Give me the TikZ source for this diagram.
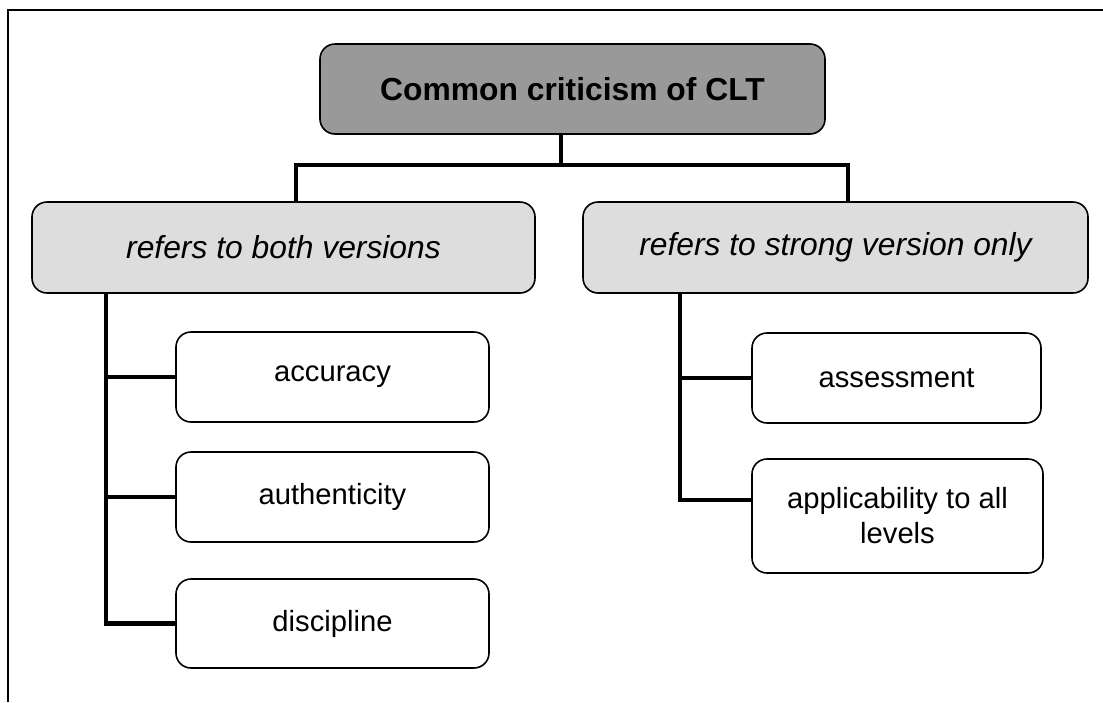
\documentclass[tikz,border=0pt]{standalone}
\usepackage{fontspec}
\setmainfont{Liberation Sans}
\begin{document}
\begin{tikzpicture}[x=1pt,y=-1pt,
  box/.style={draw=black,line width=1.6pt,rounded corners=15pt,rectangle,align=center,inner sep=0pt},
  topbox/.style={box,fill=topgray,font=\fontsize{31.8}{38}\selectfont\bfseries},
  midbox/.style={box,fill=midgray,font=\fontsize{31.8}{38}\selectfont\itshape},
  leafbox/.style={box,fill=white,font=\fontsize{29.2}{35}\selectfont},
  conn/.style={line width=4.6pt,line join=miter,line cap=butt}]
\definecolor{topgray}{HTML}{999999}
\definecolor{midgray}{HTML}{DDDDDD}
\useasboundingbox (0,0) rectangle (1103,702);
\draw[line width=1.2pt] (8,702) -- (8,10) -- (1103,10);

\node[topbox,minimum width=505pt,minimum height=90pt] (top) at (572.5,89) {Common criticism of CLT};
\node[midbox,minimum width=503pt,minimum height=91pt] (lb) at (283.5,247.5) {refers to both versions};
\node[midbox,minimum width=505pt,minimum height=91pt] (rb) at (835.5,247.5) {refers to strong version only};

\node[leafbox,minimum width=313pt,minimum height=90pt] (acc) at (332.5,377) {accuracy};
\node[leafbox,minimum width=313pt,minimum height=90pt] (aut) at (332.5,497) {authenticity};
\node[leafbox,minimum width=313pt,minimum height=89pt] (dis) at (332.5,623.5) {discipline};
\node[leafbox,minimum width=289pt,minimum height=90pt] (ass) at (896.5,378) {assessment};
\node[leafbox,minimum width=291pt,minimum height=114pt] (app) at (897.5,516) {applicability to all\\levels};

\coordinate (j) at (561,165);
\coordinate (lx) at (296,165);
\coordinate (rx) at (848,165);
\coordinate (ls) at (106,0);
\coordinate (rs) at (680,0);

\draw[conn] (top.south -| j) -- (j);
\draw[conn] (lb.north -| lx) -- (lx) -- (rx) -- (rb.north -| rx);

\draw[conn] (lb.south -| ls) |- (dis.west);
\draw[conn] (acc.west -| ls) -- (acc.west);
\draw[conn] (aut.west -| ls) -- (aut.west);

\draw[conn] (rb.south -| rs) |- ([yshift=16pt]app.west);
\draw[conn] (ass.west -| rs) -- (ass.west);
\end{tikzpicture}
\end{document}
